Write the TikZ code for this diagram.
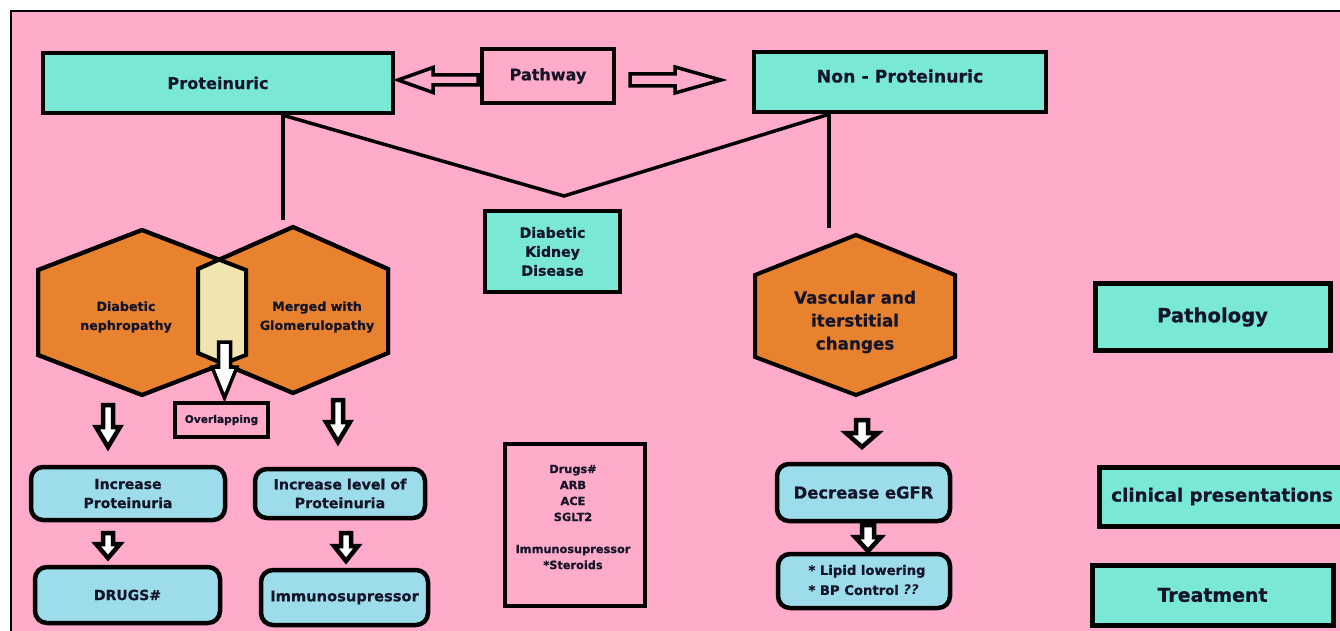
\documentclass[tikz,border=0pt]{standalone}
\usepackage{fontspec}
\setmainfont{DejaVu Sans}[BoldFeatures={FakeBold=0.6}]
\newdimen\pxu \pxu=0.75pt
\definecolor{bgpink}{HTML}{FFABC9}
\definecolor{boxteal}{HTML}{79E8D4}
\definecolor{hexorange}{HTML}{E8822E}
\definecolor{lblue}{HTML}{9DDCEA}
\definecolor{lyellow}{HTML}{F0E4B0}
\definecolor{txt}{HTML}{15152A}
\newcommand\fsz[2]{\fontsize{#1}{#2}\selectfont\bfseries}
\tikzset{
  pics/barrow/.style n args={6}{code={
    \draw[line width=#6\pxu, fill=#5, line join=miter]
      (0,-#3) -- ({#1-#2},-#3) -- ({#1-#2},-#4) -- (#1,0) -- ({#1-#2},#4) -- ({#1-#2},#3) -- (0,#3) -- cycle;}},
  box/.style={draw=black, line width=4.5\pxu, fill=boxteal, inner sep=0pt, align=center, text=txt},
  rbox/.style={draw=black, line width=4.5\pxu, fill=lblue, rounded corners=12\pxu, inner sep=0pt, align=center, text=txt},
  pbox/.style={draw=black, line width=4\pxu, fill=bgpink, inner sep=0pt, align=center, text=txt},
  hexst/.style={draw=black, line width=4\pxu, fill=hexorange, line join=miter},
  conn/.style={draw=black, line width=3.5\pxu},
  lbl/.style={inner sep=0pt, align=center, text=txt}
}
\begin{document}
\begin{tikzpicture}[x=0.75pt,y=-0.75pt]
\path[use as bounding box] (0,0) rectangle (1340,631);
\clip (0,0) rectangle (1340,631);
\fill[white] (0,0) rectangle (1340,631);
\fill[bgpink] (11,11) rectangle (1350,640);
\draw[line width=2.5\pxu] (11,640) -- (11,11) -- (1350,11);

% top row
\node[box, minimum width=350\pxu, minimum height=60\pxu, font=\fsz{12.1}{14}] (prot) at (218,83) {Proteinuric};
\node[pbox, minimum width=132\pxu, minimum height=54\pxu, font=\fsz{12}{14}] (path) at (548,76) {Pathway};
\node[box, minimum width=292\pxu, minimum height=60\pxu,
  label={[lbl, font=\fsz{13}{15}, yshift=6\pxu]center:Non - Proteinuric}] (nonprot) at (900,82) {};
\pic[rotate=180] (larr) at (478,80) {barrow={80}{35}{5}{12.5}{bgpink}{3.5}};
\pic (rarr) at (630,80) {barrow={91}{46}{6}{13}{bgpink}{3.5}};

% connecting lines
\coordinate (pl) at (283,220);
\coordinate (pv) at (564,196);
\coordinate (pr) at (829,228);
\draw[conn] (prot.south -| pl) -- (pl);
\draw[conn, line join=miter] (prot.south -| pl) -- (pv) -- (nonprot.south -| pr);
\draw[conn] (nonprot.south -| pr) -- (pr);

\node[box, minimum width=135\pxu, minimum height=81\pxu, font=\fsz{10.6}{14.25}] (dkd) at (552.5,251.5) {Diabetic\\Kidney\\Disease};

% hexagons
\draw[hexst] (142,230) -- (246,270) -- (246,355) -- (142,395) -- (38,355) -- (38,270) -- cycle;
\draw[hexst] (293,227) -- (388,269) -- (388,353) -- (293,393) -- (198,353) -- (198,269) -- cycle;
\begin{scope}
  \clip (142,230) -- (246,270) -- (246,355) -- (142,395) -- (38,355) -- (38,270) -- cycle;
  \fill[lyellow] (293,227) -- (388,269) -- (388,353) -- (293,393) -- (198,353) -- (198,269) -- cycle;
\end{scope}
\draw[line width=4\pxu, line join=miter] (142,230) -- (246,270) -- (246,355) -- (142,395) -- (38,355) -- (38,270) -- cycle;
\draw[line width=4\pxu, line join=miter] (293,227) -- (388,269) -- (388,353) -- (293,393) -- (198,353) -- (198,269) -- cycle;
\node[lbl, font=\fsz{9.5}{14.25}] (dn) at (126,317) {Diabetic\\nephropathy};
\node[lbl, font=\fsz{9.5}{14.25}] (mg) at (317,317) {Merged with\\Glomerulopathy};

\draw[hexst] (856,235) -- (955,275) -- (955,357) -- (856,395) -- (755,357) -- (755,275) -- cycle;
\node[lbl, font=\fsz{12.6}{17.25}] (vasc) at (855,322) {Vascular and\\iterstitial\\changes};

% overlapping
\node[pbox, minimum width=93\pxu, minimum height=34\pxu, font=\fsz{8}{10}] (ovl) at (221.5,420) {Overlapping};
\pic[rotate=-90] (aov) at (224.5,342) {barrow={56}{31}{6}{12.5}{white}{3.5}};

% down arrows
\pic[rotate=-90] (adn) at (108,405) {barrow={42}{20}{5}{12}{white}{4.5}};
\pic[rotate=-90] (amg) at (338,400) {barrow={42}{20}{5}{12}{white}{4.5}};
\pic[rotate=-90] (aip) at (108,533) {barrow={25}{14}{5}{12}{white}{4.5}};
\pic[rotate=-90] (ail) at (346,533) {barrow={28}{15}{5}{12}{white}{4.5}};
\pic[rotate=-90] (avc) at (862,420) {barrow={27}{14}{6}{16}{white}{4.5}};
\pic[rotate=-90] (adg) at (868,525) {barrow={26}{14}{6}{13}{white}{4.5}};

% rounded boxes
\node[rbox, minimum width=194\pxu, minimum height=53\pxu, font=\fsz{10.5}{14.25}] (incp) at (128,493.5) {Increase\\Proteinuria};
\node[rbox, minimum width=170\pxu, minimum height=49\pxu, font=\fsz{10.7}{14}] (incl) at (340,493.5) {Increase level of\\Proteinuria};
\node[rbox, minimum width=185\pxu, minimum height=56\pxu, font=\fsz{10.5}{12}] (drugs) at (127.5,595) {DRUGS\#};
\node[rbox, minimum width=167\pxu, minimum height=55\pxu, font=\fsz{11}{13}] (immu) at (344.5,597.5) {Immunosupressor};
\node[rbox, minimum width=173\pxu, minimum height=57\pxu, font=\fsz{12.3}{14}] (egfr) at (863.5,492.5) {Decrease eGFR};
\node[rbox, minimum width=172\pxu, minimum height=54\pxu] (lipid) at (864,581) {};
\node[lbl, align=left, font=\fsz{9.9}{15}] (lipidtxt) at (867,580) {* Lipid lowering\\* BP Control {\itshape ??}};

% drug list box
\node[pbox, line width=4.5\pxu, minimum width=140\pxu, minimum height=162\pxu] (dbox) at (575,525) {};
\node[lbl, font=\fsz{8.5}{12}] (dtxt) at (573,517) {Drugs\#\\ARB\\ACE\\SGLT2\\[12pt]Immunosupressor\\*Steroids};

% legend boxes
\node[box, line width=5\pxu, minimum width=235\pxu, minimum height=66\pxu, font=\fsz{14.7}{16}] (patho) at (1212.5,317) {Pathology};
\node[box, line width=5\pxu, minimum width=246\pxu, minimum height=59\pxu, font=\fsz{13.7}{16}] (clin) at (1222,496.5) {clinical presentations};
\node[box, line width=5\pxu, minimum width=241\pxu, minimum height=60\pxu, font=\fsz{14.2}{16}] (treat) at (1212.5,595) {Treatment};
\end{tikzpicture}
\end{document}
